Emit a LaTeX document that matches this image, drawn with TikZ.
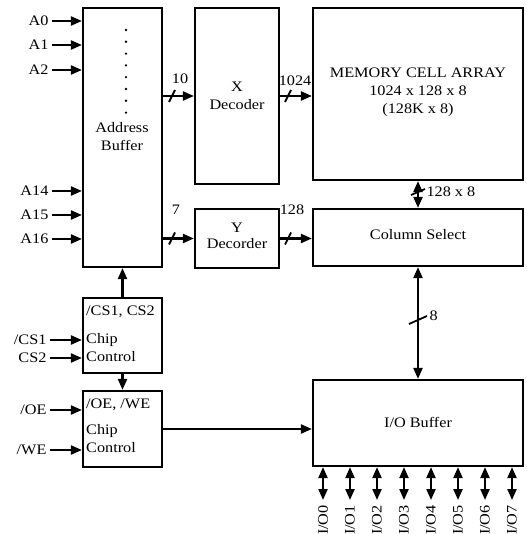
\documentclass[tikz,border=0pt]{standalone}
\usepackage{fontspec}
\setmainfont{Liberation Serif}[FakeStretch=1.12]
\usetikzlibrary{arrows.meta, positioning}

\begin{document}
\begin{tikzpicture}[x=1pt, y=-1pt, >={Triangle[length=11pt, width=9pt]},
    font=\fontsize{14.5}{18}\selectfont,
    box/.style={draw, line width=2.2pt, inner sep=0pt},
    sig/.style={line width=2.2pt, ->},
    bus/.style={line width=2.2pt, <->},
    slash/.style={line width=1.8pt}]

    \useasboundingbox (0,0) rectangle (526,534);

    % blocks
    \node[box, minimum width=79, minimum height=259] (ab) at (122.5,137.5) {};
    \node[box, minimum width=84, minimum height=176] (xd) at (237,96) {};
    \node[box, minimum width=210, minimum height=172] (mem) at (418,94) {};
    \node[box, minimum width=84, minimum height=59] (yd) at (237,238.5) {};
    \node[box, minimum width=210, minimum height=57] (cs) at (418,237.5) {};
    \node[box, minimum width=210, minimum height=86] (io) at (418,423) {};
    \node[box, minimum width=79, minimum height=75] (cc1) at (122.5,335.5) {};
    \node[box, minimum width=79, minimum height=76] (cc2) at (122.5,429) {};

    % block texts
    \node[align=center] (abtxt) at (122,137) {Address\\Buffer};
    \foreach \k in {0,...,7}
        \fill (126,30+11.8*\k) circle (1.3);
    \node[align=center] (xdtxt) at (237,96) {X\\Decoder};
    \node[align=center, font=\fontsize{14.5}{16}\selectfont] (ydtxt) at (237,236) {Y\\Decorder};
    \node[align=center] (memtxt) at (418,92) {MEMORY CELL ARRAY\\1024 x 128 x 8\\(128K x 8)};
    \node (cstxt) at (418,235) {Column Select};
    \node (iotxt) at (418,422) {I/O Buffer};
    \node[align=left, anchor=north west, inner sep=0pt] (cc1txt) at (86,306)
        {/CS1, CS2\\[10pt]Chip\\Control};
    \node[align=left, anchor=north west, inner sep=0pt] (cc2txt) at (86,399)
        {/OE, /WE\\[8pt]Chip\\Control};

    % address inputs
    \foreach \lab/\y in {A0/21, A1/45, A2/70, A14/191, A15/215, A16/239} {
        \node[anchor=east] (in\lab) at (52,\y) {\lab};
        \draw[sig] (in\lab.east) -- (in\lab.east -| ab.west);
    }

    % control inputs
    \foreach \nm/\lab/\y/\blk in {cs1/{/CS1}/340/cc1, cs2/{CS2}/358/cc1, oe/{/OE}/410/cc2, we/{/WE}/450/cc2} {
        \node[anchor=east] (in\nm) at (50,\y) {\lab};
        \draw[sig] (in\nm.east) -- (in\nm.east -| \blk.west);
    }

    % decoders
    \draw[sig] (ab.east |- xd.west) -- (xd.west);
    \draw[slash] (172,96) ++(-3,6) -- ++(6,-12);
    \node (n10) at (180,79) {10};
    \draw[sig] (xd.east) -- (xd.east -| mem.west);
    \draw[slash] (288,96) ++(-3,6) -- ++(6,-12);
    \node (n1024) at (295,81) {1024};

    \draw[sig] (ab.east |- yd.west) -- (yd.west);
    \draw[slash] (172,238.5) ++(-3,6) -- ++(6,-12);
    \node (n7) at (176,210) {7};
    \draw[sig] (yd.east) -- (yd.east -| cs.west);
    \draw[slash] (288,238.5) ++(-3,6) -- ++(6,-12);
    \node (n128) at (292,210) {128};

    % data path
    \draw[bus] (mem.south) -- (cs.north);
    \draw[slash] (418,192) ++(-7,3) -- ++(14,-6);
    \node[anchor=west] (n128x8) at (423,192) {128 x 8};
    \draw[bus] (cs.south) -- (io.north);
    \draw[slash] (418,320) ++(-9,4) -- ++(18,-8);
    \node[anchor=west] (n8) at (426,316) {8};

    % chip control
    \draw[sig] (cc1.north) -- (ab.south);
    \draw[sig] (cc1.south) -- (cc2.north);
    \draw[sig] (cc2.east) -- (cc2.east -| io.west);

    % I/O pins
    \foreach \i in {0,...,7} {
        \coordinate (pin\i) at (323+27*\i,500);
        \draw[bus] (io.south -| pin\i) -- (pin\i);
        \node[rotate=90, anchor=east, inner sep=0pt] (lbl\i) at (323+27*\i,505) {I/O\i};
    }

\end{tikzpicture}
\end{document}
